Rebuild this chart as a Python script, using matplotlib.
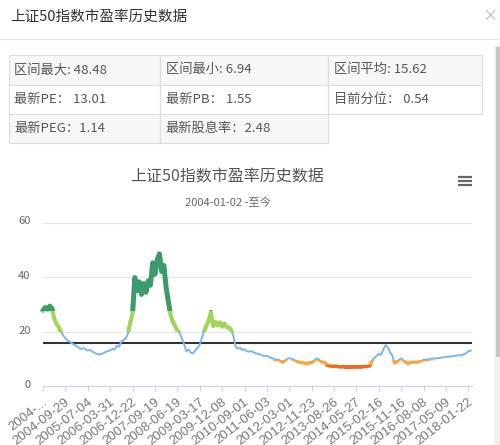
import numpy as np
import matplotlib
matplotlib.use('Agg')
import matplotlib.pyplot as plt
from matplotlib.patches import Rectangle
from matplotlib.transforms import ScaledTranslation

plt.rcParams['font.family'] = ['Noto Sans CJK SC', 'DejaVu Sans']

W, H = 500, 445

# PE series, ~10 points per x-axis tick interval
pe = [27.6, 28.8, 27.9, 29.3, 28.4, 24.8, 22.8, 21.6, 19.9, 18.6,
      17.5, 16.7, 16.2, 15.6, 15.1, 14.7, 14.0, 13.5, 14.0, 13.4,
      13.0, 13.3, 12.6, 12.2, 11.8, 11.5, 11.8, 12.0, 12.5, 12.8,
      13.1, 13.6, 13.4, 14.8, 14.4, 16.3, 16.9, 17.5, 19.4, 23.5,
      26.5, 39.8, 35.0, 38.2, 33.6, 37.6, 34.4, 38.6, 37.0, 45.2,
      41.0, 46.4, 48.48, 42.0, 44.2, 36.0, 31.0, 26.0, 23.5, 22.0,
      20.3, 19.5, 17.5, 15.4, 12.8, 13.4, 12.2, 12.0, 13.0, 14.0,
      15.2, 17.8, 20.2, 22.3, 24.0, 27.0, 22.0, 23.6, 22.2, 23.4,
      21.8, 23.0, 21.6, 21.5, 20.6, 18.5, 14.6, 13.7, 14.0, 13.2,
      13.5, 12.8, 12.6, 12.8, 12.4, 12.0, 11.8, 11.6, 11.2, 11.0,
      11.1, 10.6, 10.3, 10.0, 9.6, 9.8, 9.2, 8.7, 9.3, 10.0,
      10.2, 10.0, 9.7, 9.2, 8.8, 8.6, 8.5, 8.4, 8.3, 8.5,
      8.6, 9.3, 10.1, 9.8, 9.1, 8.7, 8.5, 7.7, 7.5, 7.4,
      7.3, 7.4, 7.2, 7.1, 7.2, 7.0, 6.94, 7.0, 7.0, 7.1,
      7.0, 7.1, 7.0, 7.2, 7.3, 7.3, 7.6, 9.3, 10.4, 11.0,
      11.8, 11.4, 13.4, 15.0, 14.2, 12.4, 11.2, 8.4, 8.8, 9.7,
      10.1, 9.4, 8.7, 8.3, 8.6, 8.7, 8.8, 8.7, 8.9, 9.3,
      9.6, 9.7, 9.8, 10.0, 10.0, 10.1, 10.2, 10.3, 10.4, 10.6,
      10.7, 10.8, 10.8, 11.0, 11.1, 11.2, 11.3, 11.3, 11.7, 12.0,
      12.8, 13.01]

tick_labels = ['2004-...', '2004-09-29', '2005-07-04', '2006-03-31', '2006-12-22',
               '2007-09-19', '2008-06-19', '2009-03-17', '2009-12-08', '2010-09-01',
               '2011-06-03', '2012-03-01', '2012-11-23', '2013-08-26', '2014-05-27',
               '2015-02-16', '2015-11-16', '2016-08-08', '2017-05-09', '2018-01-22']
tick_step = 10
pe_mean = 15.62

stats = [['区间最大: 48.48', '区间最小: 6.94', '区间平均: 15.62'],
         ['最新PE： 13.01', '最新PB： 1.55', '目前分位： 0.54'],
         ['最新PEG：1.14', '最新股息率：2.48']]

zone_edges = [-5, 7.8, 9.4, 20, 27.5, 100]
zone_colors = ['#ec6a25', '#f5a742', '#7cb5ec', '#a3d45a', '#3b9b6d']
zone_widths = [3.0, 2.4, 1.4, 3.0, 3.6]

fig = plt.figure(figsize=(W / 100, H / 100), dpi=100)

# page background: header, table, scrollbar, chart titles
bg = fig.add_axes([0, 0, 1, 1])
bg.set_xlim(0, W)
bg.set_ylim(H, 0)
bg.axis('off')

bg.text(10, 17, '上证50指数市盈率历史数据', fontsize=10.5, color='#333333', va='center')
bg.text(490, 16, '×', fontsize=11, color='#bbbbbb', ha='center', va='center')
bg.plot([0, W], [38.5, 38.5], color='#e5e5e5', lw=0.8)

col_x = [8.5, 159.5, 327.5, 481.5]
row_y = [55, 84.5, 113.5, 143]
for r, row in enumerate(stats):
    fill = '#f7f7f7' if r % 2 == 0 else 'white'
    for c, txt in enumerate(row):
        x0, x1 = col_x[c], col_x[c + 1]
        y0, y1 = row_y[r], row_y[r + 1]
        bg.add_patch(Rectangle((x0, y0), x1 - x0, y1 - y0, facecolor=fill,
                               edgecolor='#dddddd', lw=0.8))
        bg.text(x0 + 6, (y0 + y1) / 2, txt, fontsize=9.5, color='#555555', va='center')

bg.add_patch(Rectangle((494, 45), 6, 400, facecolor='#f1f1f1', edgecolor='none'))
bg.add_patch(Rectangle((495.5, 47), 4.5, 310, facecolor='#c6c6c6', edgecolor='none'))

bg.text(227.5, 177, '上证50指数市盈率历史数据', fontsize=11.5, color='#555555',
        ha='center', va='center')
bg.text(228, 203, '2004-01-02 -至今', fontsize=8, color='#666666', ha='center', va='center')
for yy in [176.5, 180.5, 184.5]:
    bg.plot([457.5, 471.5], [yy, yy], color='#666666', lw=1.6, solid_capstyle='butt')

# chart
ax = fig.add_axes([43 / W, 1 - 386 / H, 429 / W, (386 - 222.5) / H])
x = np.arange(len(pe))

for lo, hi, col, lw in zip(zone_edges[:-1], zone_edges[1:], zone_colors, zone_widths):
    ln, = ax.plot(x, pe, color=col, lw=lw, zorder=3, solid_joinstyle='round')
    clip = Rectangle((-10, lo), 300, hi - lo, transform=ax.transData)
    ln.set_clip_path(clip)

ax.axhline(pe_mean, color='#333333', lw=1.5, zorder=2)

ax.set_xlim(0, 191.6)
ax.set_ylim(0, 60)
ax.set_yticks([0, 20, 40, 60])
ax.grid(axis='y', color='#e6e6e6', lw=0.8)
ax.set_axisbelow(True)
for s in ['top', 'right', 'left']:
    ax.spines[s].set_visible(False)
ax.spines['bottom'].set_color('#ccd6eb')
ax.tick_params(axis='y', length=0, pad=9, labelsize=8, labelcolor='#666666')

ax.set_xticks(x[::tick_step][:len(tick_labels)])
ax.set_xticklabels(tick_labels, rotation=38, ha='right', va='center',
                   rotation_mode='anchor', fontsize=9.5, color='#777777',
                   family=['Liberation Sans'])
ax.tick_params(axis='x', length=3.6, color='#ccd6eb', pad=7)
offset = ScaledTranslation(3 / 100, 0, fig.dpi_scale_trans)
for lbl in ax.get_xticklabels():
    lbl.set_transform(lbl.get_transform() + offset)
yoff = ScaledTranslation(0, 2 / 100, fig.dpi_scale_trans)
for lbl in ax.get_yticklabels():
    lbl.set_transform(lbl.get_transform() + yoff)

fig.savefig('out.png', dpi=100)
